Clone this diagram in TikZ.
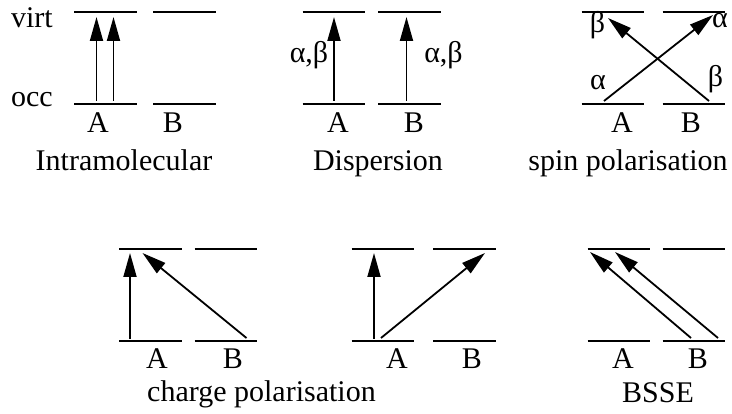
\documentclass[tikz,border=0pt]{standalone}
\usepackage{fontspec}
\setmainfont{Liberation Serif}
\usetikzlibrary{arrows.meta}

\tikzset{
  level/.style={minimum width=62.5pt, minimum height=0pt, inner sep=0pt},
  levelline/.style={line width=2pt},
  exc/.style={line width=1.8pt, -{Triangle[length=24pt, width=13pt]}},
  lab/.style={anchor=base, inner sep=0pt, font=\fontsize{30}{36}\selectfont},
}

\begin{document}
\begin{tikzpicture}[x=1pt, y=-1pt]
\useasboundingbox (0,0) rectangle (732,414);

% orbital levels, A and B, virt and occ
\foreach \n/\x/\y in {a1v/105.5/12, b1v/184.5/12, a1o/105.5/104, b1o/184.5/104,
                      a2v/334/12, b2v/409.5/12, a2o/334/104, b2o/409.5/104,
                      a3v/613/12, b3v/694/12, a3o/613/104, b3o/694/104,
                      a4v/150.5/249, b4v/226/249, a4o/150.5/341, b4o/226/341,
                      a5v/383/249, b5v/464.5/249, a5o/383/341, b5o/464.5/341,
                      a6v/619/249, b6v/694/249, a6o/619/341, b6o/694/341}{
  \node[level] (\n) at (\x,\y) {};
  \draw[levelline] (\n.west) -- (\n.east);
}

\node[lab, anchor=base east] (virt) at (53,28) {virt};
\node[lab, anchor=base east] (occ) at (53,107) {occ};

% Intramolecular
\draw[exc] ([xshift=-9pt, yshift=3pt]a1o.center) -- ([xshift=-9pt, yshift=-5pt]a1v.center);
\draw[exc] ([xshift=8pt, yshift=3pt]a1o.center) -- ([xshift=8pt, yshift=-5pt]a1v.center);
\node[lab] (la1) at (98,133) {A};
\node[lab] (lb1) at (173,133) {B};
\node[lab] (t1) at (124,171) {Intramolecular};

% Dispersion
\draw[exc] ([yshift=3pt]a2o.center) -- ([yshift=-5pt]a2v.center);
\draw[exc] ([xshift=-3pt, yshift=3pt]b2o.center) -- ([xshift=-3pt, yshift=-5pt]b2v.center);
\node[lab] (ab2a) at (309,63) {α,β};
\node[lab] (ab2b) at (443.5,63) {α,β};
\node[lab] (la2) at (338,133) {A};
\node[lab] (lb2) at (414,133) {B};
\node[lab] (t2) at (378,171) {Dispersion};

% spin polarisation
\draw[exc] ([xshift=-9pt, yshift=3pt]a3o.center) -- ([xshift=19pt, yshift=-3pt]b3v.center);
\draw[exc] ([xshift=15pt, yshift=3pt]b3o.center) -- ([xshift=-5pt, yshift=-6pt]a3v.center);
\node[lab] (be3t) at (597.5,33) {β};
\node[lab] (al3t) at (720,28) {α};
\node[lab] (al3o) at (598,90) {α};
\node[lab] (be3o) at (715.5,87) {β};
\node[lab] (la3) at (622,133) {A};
\node[lab] (lb3) at (691,133) {B};
\node[lab] (t3) at (628,171) {spin polarisation};

% charge polarisation
\draw[exc] ([xshift=-20.5pt, yshift=2pt]a4o.center) -- ([xshift=-20.5pt, yshift=-4pt]a4v.center);
\draw[exc] ([xshift=20.5pt, yshift=3pt]b4o.center) -- ([xshift=-8pt, yshift=-4pt]a4v.center);
\draw[exc] ([xshift=-9pt, yshift=2pt]a5o.center) -- ([xshift=-9pt, yshift=-4pt]a5v.center);
\draw[exc] ([xshift=-2pt, yshift=3pt]a5o.center) -- ([xshift=20.5pt, yshift=-4pt]b5v.center);
\node[lab] (la4) at (157,369) {A};
\node[lab] (lb4) at (233,369) {B};
\node[lab] (la5) at (397,369) {A};
\node[lab] (lb5) at (472,369) {B};
\node[lab] (t4) at (261.5,402) {charge polarisation};

% BSSE
\draw[exc] ([xshift=-3pt, yshift=3pt]b6o.center) -- ([xshift=-29pt, yshift=-3pt]a6v.center);
\draw[exc] ([xshift=24pt, yshift=3pt]b6o.center) -- ([xshift=-4pt, yshift=-3pt]a6v.center);
\node[lab] (la6) at (623,369) {A};
\node[lab] (lb6) at (698,369) {B};
\node[lab] (t6) at (658,403) {BSSE};
\end{tikzpicture}
\end{document}
